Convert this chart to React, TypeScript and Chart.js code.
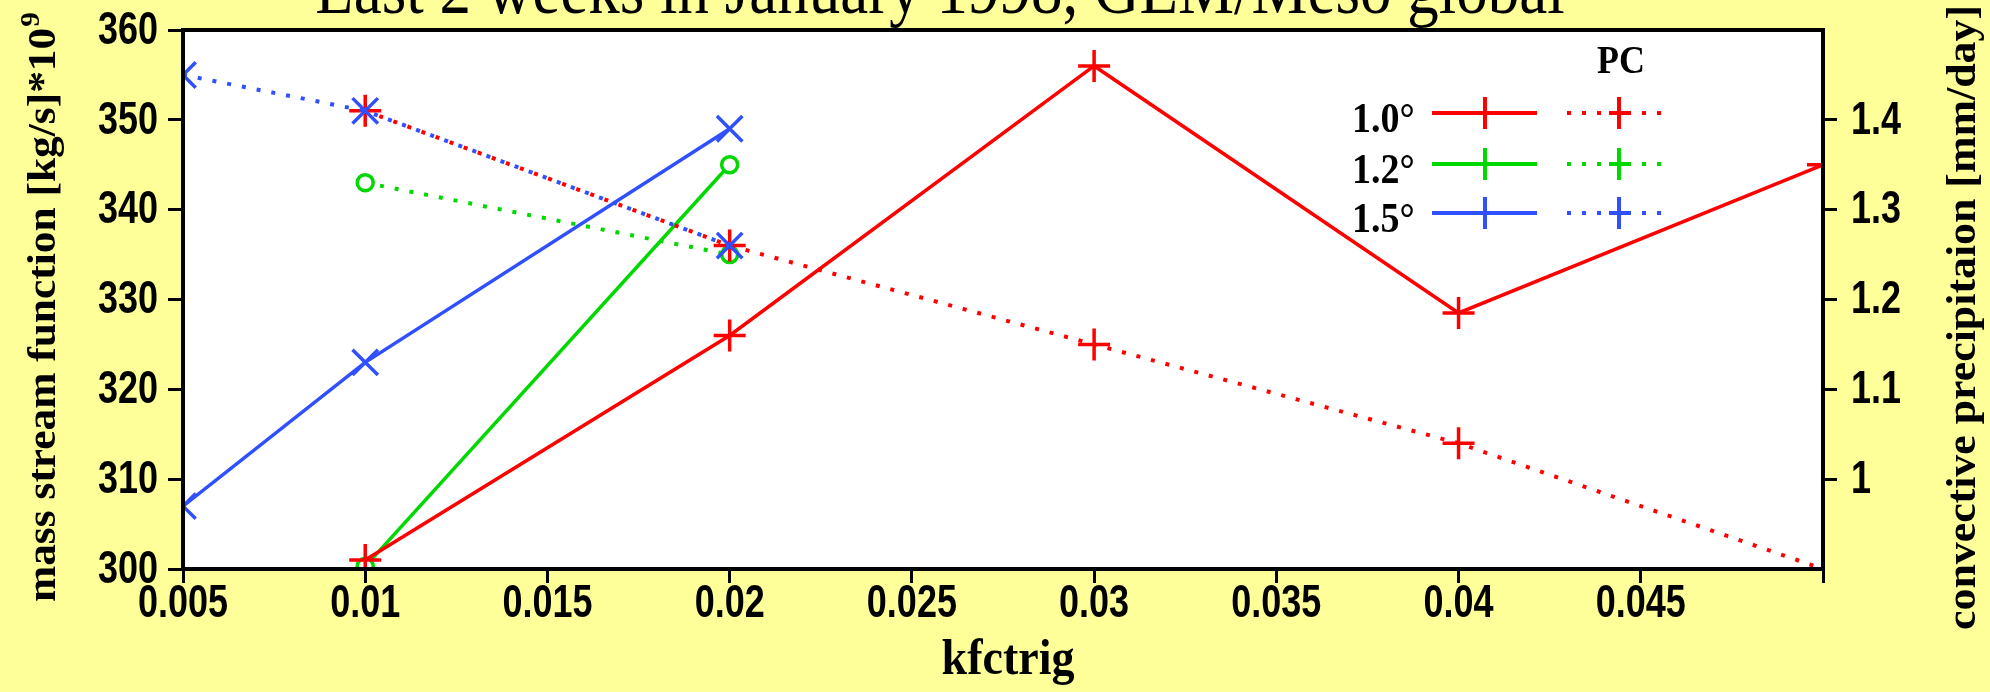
import React, { useEffect, useRef } from 'react';
import { Chart, registerables } from 'chart.js';

Chart.register(...registerables);

const chartTitle = 'Last 2 weeks in January 1998, GEM/Meso global';
const xAxisTitle = 'kfctrig';
const leftAxisTitle = 'mass stream function [kg/s]*10';
const leftAxisTitleSup = '9';
const rightAxisTitle = 'convective precipitaion [mm/day]';
const legendHeader = 'PC';
const legendLabels = ['1.0°', '1.2°', '1.5°'];

const xTicks = [0.005, 0.01, 0.015, 0.02, 0.025, 0.03, 0.035, 0.04, 0.045, 0.05];
const xTickLabels = ['0.005', '0.01', '0.015', '0.02', '0.025', '0.03', '0.035', '0.04', '0.045', ''];
const leftTicks = [300, 310, 320, 330, 340, 350, 360];
const leftTickLabels = ['300', '310', '320', '330', '340', '350', '360'];
const rightTicks = [1, 1.1, 1.2, 1.3, 1.4];
const rightTickLabels = ['1', '1.1', '1.2', '1.3', '1.4'];

// 1.0 degree
const x10 = [0.01, 0.02, 0.03, 0.04, 0.05];
const msf10 = [301, 326, 356, 328.5, 345];
const pc10 = [1.41, 1.26, 1.15, 1.04, 0.9];
// 1.2 degree
const x12 = [0.01, 0.02];
const msf12 = [300.3, 345];
const pc12 = [1.33, 1.25];
// 1.5 degree
const x15 = [0.005, 0.01, 0.02];
const msf15 = [307, 323, 349];
const pc15 = [1.45, 1.41, 1.26];

const RED = '#ff0000';
const GREEN = '#00d800';
const BLUE = '#3050ff';
const DOT = [4, 11];
const TICK_FONT = 'bold 36px "Liberation Sans"';
const TICK_SY = 1.28;

const pts = (xs: number[], ys: number[]) => xs.map((x, i) => ({ x, y: ys[i] }));

function stretched(ctx: any, text: string, x: number, y: number, font: string, sx: number, sy: number, align: string, baseline: string) {
  ctx.save();
  ctx.translate(x, y);
  ctx.scale(sx, sy);
  ctx.font = font;
  ctx.textAlign = align;
  ctx.textBaseline = baseline;
  ctx.fillText(text, 0, 0);
  ctx.restore();
}

const decor = {
  id: 'decor',
  beforeDraw(chart: any) {
    const { ctx, chartArea: a } = chart;
    ctx.save();
    ctx.fillStyle = '#ffffff';
    ctx.fillRect(a.left, a.top, a.right - a.left, a.bottom - a.top);
    ctx.restore();
  },
  afterDraw(chart: any) {
    const { ctx, chartArea: a, scales } = chart;
    ctx.save();
    // frame
    ctx.strokeStyle = '#000';
    ctx.lineWidth = 4;
    ctx.strokeRect(a.left, a.top, a.right - a.left, a.bottom - a.top);
    ctx.fillStyle = '#000';

    // tick labels
    xTicks.forEach((v, i) => {
      stretched(ctx, xTickLabels[i], scales.x.getPixelForValue(v), 604, TICK_FONT, 1, TICK_SY, 'center', 'middle');
    });
    leftTicks.forEach((v, i) => {
      stretched(ctx, leftTickLabels[i], 158, scales.y.getPixelForValue(v) + 1, TICK_FONT, 1, TICK_SY, 'right', 'middle');
    });
    rightTicks.forEach((v, i) => {
      stretched(ctx, rightTickLabels[i], 1851, scales.y1.getPixelForValue(v) + 1, TICK_FONT, 1, TICK_SY, 'left', 'middle');
    });

    // title
    stretched(ctx, chartTitle, 940, 13, '63px "Liberation Serif"', 1, 1.15, 'center', 'alphabetic');

    // x axis title
    stretched(ctx, xAxisTitle, 1008, 661, 'bold 46px "Liberation Serif"', 1, 1.1, 'center', 'middle');

    // left axis title (fit between y=12 and y=602)
    ctx.save();
    ctx.font = 'bold 40px "Liberation Serif"';
    const mainW = ctx.measureText(leftAxisTitle).width;
    ctx.font = 'bold 27px "Liberation Serif"';
    const supW = ctx.measureText(leftAxisTitleSup).width + 1;
    const tot = mainW + supW;
    const lsx = (602 - 12) / tot;
    ctx.translate(42, 307);
    ctx.rotate(-Math.PI / 2);
    ctx.scale(lsx, 1);
    ctx.textAlign = 'left';
    ctx.textBaseline = 'alphabetic';
    ctx.font = 'bold 40px "Liberation Serif"';
    ctx.fillText(leftAxisTitle, -tot / 2, 13);
    ctx.font = 'bold 27px "Liberation Serif"';
    ctx.fillText(leftAxisTitleSup, -tot / 2 + mainW + 1, -3);
    ctx.restore();

    // right axis title (fit between y=5 and y=630)
    ctx.save();
    ctx.font = 'bold 42px "Liberation Serif"';
    const rw = ctx.measureText(rightAxisTitle).width;
    const rsx = (630 - 5) / rw;
    ctx.translate(1964, (630 + 5) / 2);
    ctx.rotate(-Math.PI / 2);
    ctx.scale(rsx, 1);
    ctx.textAlign = 'center';
    ctx.textBaseline = 'middle';
    ctx.fillText(rightAxisTitle, 0, 0);
    ctx.restore();

    // legend
    stretched(ctx, legendHeader, 1621, 73, 'bold 36px "Liberation Serif"', 1, 1.1, 'center', 'alphabetic');
    const colors = [RED, GREEN, BLUE];
    const rows = [113, 164, 213];
    legendLabels.forEach((lab, i) => {
      const y = rows[i];
      ctx.fillStyle = '#000';
      stretched(ctx, lab, 1352, y + 19, 'bold 38px "Liberation Serif"', 1, 1.1, 'left', 'alphabetic');
      ctx.strokeStyle = colors[i];
      ctx.lineWidth = 4;
      ctx.setLineDash([]);
      ctx.beginPath();
      ctx.moveTo(1432, y);
      ctx.lineTo(1537, y);
      ctx.moveTo(1485, y - 16);
      ctx.lineTo(1485, y + 16);
      ctx.stroke();
      ctx.setLineDash(DOT);
      ctx.beginPath();
      ctx.moveTo(1567, y);
      ctx.lineTo(1663, y);
      ctx.stroke();
      ctx.setLineDash([]);
      ctx.beginPath();
      ctx.moveTo(1609, y);
      ctx.lineTo(1629, y);
      ctx.moveTo(1619, y - 16);
      ctx.lineTo(1619, y + 16);
      ctx.stroke();
    });
    ctx.restore();
  },
};

export default function App() {
  const ref = useRef<HTMLCanvasElement>(null);
  useEffect(() => {
    document.body.style.margin = '0';
    const line = (xs: number[], ys: number[], color: string, axis: string, style: string, radius: number, dotted: boolean, order: number) => ({
      type: 'line',
      data: pts(xs, ys),
      yAxisID: axis,
      borderColor: color,
      backgroundColor: style === 'circle' ? '#ffffff' : color,
      borderWidth: dotted ? 4 : 3.5,
      borderDash: dotted ? DOT : [],
      pointStyle: style,
      pointRadius: radius,
      pointBorderWidth: 3.5,
      pointBorderColor: color,
      pointBackgroundColor: style === 'circle' ? '#ffffff' : color,
      pointHoverRadius: radius,
      tension: 0,
      fill: false,
      clip: 0,
      order,
    });
    const chart = new Chart(ref.current as HTMLCanvasElement, {
      type: 'line',
      data: {
        datasets: [
          line(x15, pc15, BLUE, 'y1', 'crossRot', 18, true, 1),
          line(x15, msf15, BLUE, 'y', 'crossRot', 18, false, 2),
          line(x10, pc10, RED, 'y1', 'cross', 16, true, 3),
          line(x10, msf10, RED, 'y', 'cross', 16, false, 4),
          line(x12, pc12, GREEN, 'y1', 'circle', 8, true, 5),
          line(x12, msf12, GREEN, 'y', 'circle', 8, false, 6),
        ] as any,
      },
      options: {
        responsive: false,
        animation: false,
        devicePixelRatio: 1,
        layout: { padding: { top: 30, left: 0, right: 0, bottom: 0 } },
        plugins: { legend: { display: false }, title: { display: false }, tooltip: { enabled: false } },
        events: [],
        scales: {
          x: {
            type: 'linear',
            min: 0.005,
            max: 0.05,
            afterBuildTicks: (s: any) => { s.ticks = xTicks.map((v) => ({ value: v })); },
            afterFit: (s: any) => { s.height = 692 - 569; },
            ticks: { display: false },
            grid: { drawOnChartArea: false, tickLength: 14, color: '#000', lineWidth: 3 },
            border: { display: false },
          },
          y: {
            type: 'linear',
            position: 'left',
            min: 300,
            max: 360,
            afterBuildTicks: (s: any) => { s.ticks = leftTicks.map((v) => ({ value: v })); },
            afterFit: (s: any) => { s.width = 183; },
            ticks: { display: false },
            grid: { drawOnChartArea: false, tickLength: 15, color: '#000', lineWidth: 3 },
            border: { display: false },
          },
          y1: {
            type: 'linear',
            position: 'right',
            min: 0.9,
            max: 1.5,
            afterBuildTicks: (s: any) => { s.ticks = rightTicks.map((v) => ({ value: v })); },
            afterFit: (s: any) => { s.width = 1990 - 1823; },
            ticks: { display: false },
            grid: { drawOnChartArea: false, tickLength: 14, color: '#000', lineWidth: 3 },
            border: { display: false },
          },
        },
      } as any,
      plugins: [decor],
    });
    return () => chart.destroy();
  }, []);
  return (
    <div style={{ width: 1990, height: 692, background: '#ffff99' }}>
      <canvas ref={ref} width={1990} height={692} style={{ display: 'block' }} />
    </div>
  );
}
